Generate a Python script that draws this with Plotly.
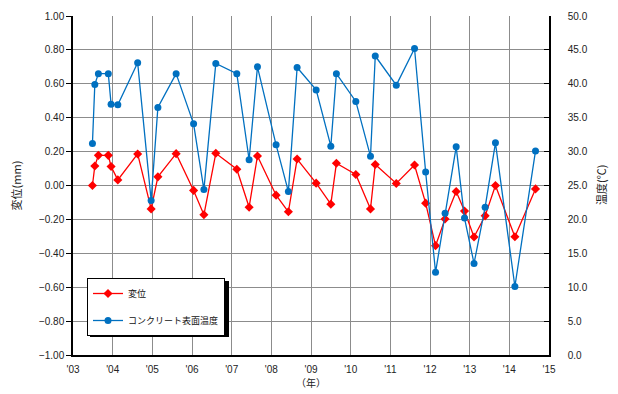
import plotly.graph_objects as go

# ---- data ----
years = [2003.49, 2003.55, 2003.64, 2003.89, 2003.96, 2004.13, 2004.63, 2004.97,
         2005.14, 2005.60, 2006.04, 2006.30, 2006.60, 2007.13, 2007.44, 2007.65,
         2008.12, 2008.43, 2008.65, 2009.13, 2009.50, 2009.64, 2010.13, 2010.50,
         2010.62, 2011.15, 2011.61, 2011.89, 2012.14, 2012.38, 2012.66, 2012.87,
         2013.11, 2013.39, 2013.65, 2014.14, 2014.66]
displacement = [0.00, 0.115, 0.178, 0.178, 0.112, 0.033, 0.186, -0.138,
                 0.051, 0.188, -0.029, -0.173, 0.190, 0.096, -0.128, 0.174,
                 -0.057, -0.155, 0.156, 0.014, -0.110, 0.131, 0.065, -0.138,
                 0.124, 0.012, 0.121, -0.104, -0.355, -0.198, -0.035, -0.151,
                 -0.304, -0.179, 0.000, -0.302, -0.020]
temperature = [31.2, 39.9, 41.5, 41.5, 37.0, 36.9, 43.1, 22.8,
               36.5, 41.5, 34.1, 24.4, 43.0, 41.5, 28.8, 42.5,
               31.0, 24.1, 42.4, 39.1, 30.8, 41.5, 37.4, 29.3,
               44.1, 39.8, 45.2, 27.0, 12.2, 20.9, 30.7, 20.2,
               13.5, 21.8, 31.3, 10.1, 30.1]

x_tickvals = list(range(2003, 2016))
x_ticktext = ["'03", "'04", "'05", "'06", "'07", "'08", "'09", "'10", "'11", "'12", "'13", "'14", "'15"]
y_tickvals = [1.0, 0.8, 0.6, 0.4, 0.2, 0.0, -0.2, -0.4, -0.6, -0.8, -1.0]
y2_tickvals = [0, 5, 10, 15, 20, 25, 30, 35, 40, 45, 50]

RED = "#FF0000"
BLUE = "#0070C0"
FONT = "Liberation Sans, Arial, Noto Sans CJK JP"
JP = "Noto Sans CJK JP"

fig = go.Figure()
fig.add_trace(go.Scatter(
    x=years, y=displacement, name="変位", mode="lines+markers",
    line=dict(color=RED, width=1.3), marker=dict(symbol="diamond", size=7, color=RED),
    legendgroup="a", yaxis="y"))
fig.add_trace(go.Scatter(
    x=years, y=temperature, name="コンクリート表面温度", mode="lines+markers",
    line=dict(color=BLUE, width=1.3), marker=dict(symbol="circle", size=7, color=BLUE),
    legendgroup="b", yaxis="y2"))

# page has an 8px body margin: figure pixel = page pixel - 8
OFF = 8
W, H = 618 - OFF, 394 - OFF
ml, mt = 73 - OFF, 16 - OFF
mr = W - (549 - OFF)
mb = H - (355 - OFF)
pw, ph = W - ml - mr, H - mt - mb


def px2paper_x(px):  # px in page coordinates
    return (px - OFF - ml) / pw


def px2paper_y(py):
    return (H - mb - (py - OFF)) / ph


# legend drop shadow (page-pixel box of the legend)
L_x0, L_y0, L_x1, L_y1 = 87, 278, 226, 334
fig.add_shape(type="rect", xref="paper", yref="paper",
              x0=px2paper_x(L_x0 + 3), x1=px2paper_x(L_x1 + 3),
              y0=px2paper_y(L_y1 + 3), y1=px2paper_y(L_y0 + 3),
              fillcolor="black", line=dict(width=0), layer="above")

# right axis title as a rotated annotation
fig.add_annotation(text="温度(℃)", xref="paper", yref="paper",
                   x=px2paper_x(601), y=px2paper_y(185), showarrow=False,
                   textangle=-90, xanchor="center", yanchor="middle",
                   font=dict(size=11, family=JP, color="#222222"))

fig.update_layout(
    width=W, height=H,
    margin=dict(l=ml, r=mr, t=mt, b=mb, autoexpand=False),
    paper_bgcolor="white", plot_bgcolor="white",
    font=dict(family=FONT, size=10, color="#222222"),
    showlegend=True,
    legend=dict(x=px2paper_x(L_x0), y=px2paper_y(L_y0), xanchor="left", yanchor="top",
                bgcolor="white", bordercolor="black", borderwidth=1,
                font=dict(size=9, color="#111111", family=JP),
                tracegroupgap=8, traceorder="grouped"),
    xaxis=dict(range=[2003, 2015], tickvals=x_tickvals, ticktext=x_ticktext,
               showgrid=True, gridcolor="#8c8c8c", gridwidth=1,
               showline=True, linecolor="black", linewidth=1.5,
               ticks="", zeroline=False, automargin=False, ticklabelstandoff=4,
               title=dict(text="（年）", font=dict(size=10, family=JP), standoff=3)),
    yaxis=dict(range=[-1, 1], tickvals=y_tickvals, tickformat=".2f",
               showgrid=True, gridcolor="#8c8c8c", gridwidth=1,
               showline=True, linecolor="black", linewidth=1.5,
               ticks="outside", ticklen=5, tickcolor="black", zeroline=False,
               automargin=False,
               title=dict(text="変位(mm)", font=dict(size=11, family=JP), standoff=18)),
    yaxis2=dict(range=[0, 50], tickvals=y2_tickvals, tickformat=".1f",
                overlaying="y", side="right", showgrid=False,
                showline=True, linecolor="black", linewidth=1.5,
                ticks="inside", ticklen=5, tickcolor="black", zeroline=False,
                automargin=False, ticklabelstandoff=15),
)

fig.write_html("out.html")
